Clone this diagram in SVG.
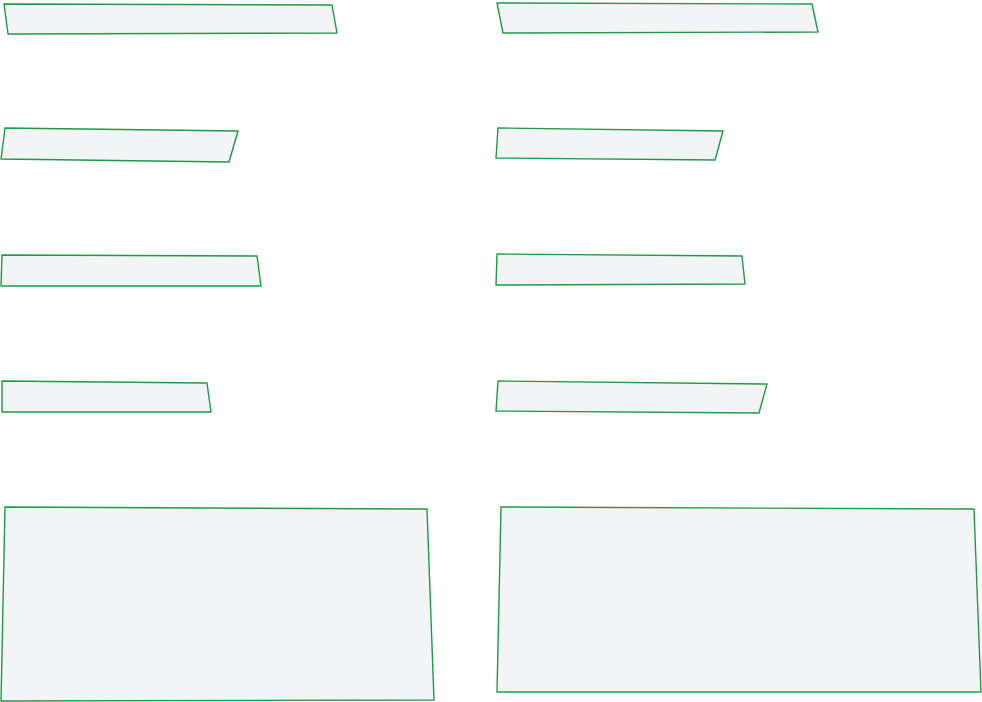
<svg xmlns="http://www.w3.org/2000/svg" width="982" height="702" viewBox="0 0 982 702">
<style>
.n{fill:#f3f4f6;stroke:#1e9a47;stroke-width:1.4;stroke-linejoin:round}
</style>
<rect width="982" height="702" fill="#ffffff"/>
<g id="node1"><polygon class="n" points="4,4 332,5 337,33 8,34"/></g>
<g id="node2"><polygon class="n" points="497,3 812,4 818,32 503,33"/></g>
<g id="node3"><polygon class="n" points="5,128 238,131 229,162 1,159"/></g>
<g id="node4"><polygon class="n" points="498,128 723,131 715,160 496,158"/></g>
<g id="node5"><polygon class="n" points="2,255 257,256 261,286 1,286"/></g>
<g id="node6"><polygon class="n" points="497,254 742,256 745,284 496,285"/></g>
<g id="node7"><polygon class="n" points="2,381 207,383 211,412 2,412"/></g>
<g id="node8"><polygon class="n" points="498,381 767,384 759,413 496,411"/></g>
<g id="node9"><polygon class="n" points="5,507 427,509 434,700 1,701"/></g>
<g id="node10"><polygon class="n" points="501,507 974,509 981,692 497,692"/></g>
<g id="connectors"></g>
</svg>
